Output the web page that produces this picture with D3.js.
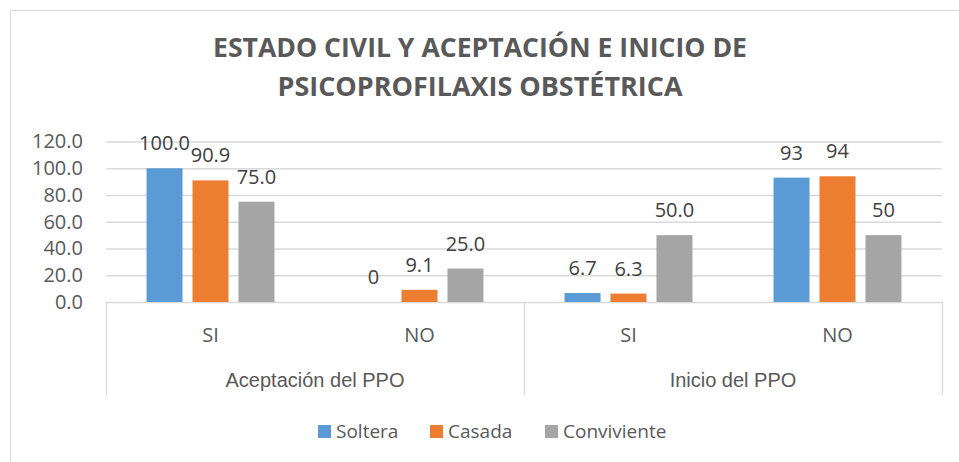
<!DOCTYPE html>
<html>
<head>
<meta charset="utf-8">
<script src="https://cdn.jsdelivr.net/npm/d3@7"></script>
<style>
  body { margin: 0; background: #fff; }
  svg { display: block; font-family: "Open Sans", sans-serif; }
</style>
</head>
<body>
<div id="chart"></div>
<script>
// data
var groups = ["Aceptación del PPO", "Inicio del PPO"];
var answers = ["SI", "NO"];
var series = ["Soltera", "Casada", "Conviviente"];
var soltera = [100.0, 0, 6.7, 93];
var casada = [90.9, 9.1, 6.3, 94];
var conviviente = [75.0, 25.0, 50.0, 50];
var solteraLabels = ["100.0", "0", "6.7", "93"];
var casadaLabels = ["90.9", "9.1", "6.3", "94"];
var convivienteLabels = ["75.0", "25.0", "50.0", "50"];
var yTicks = [0, 20, 40, 60, 80, 100, 120];
var colors = ["#5B9BD5", "#ED7D31", "#A5A5A5"];

var svgWidth = 959;
var svgHeight = 462;

var margin = { top: 141.5, right: 17, bottom: 160, left: 106 };
var width = svgWidth - margin.left - margin.right;
var height = 302 - margin.top;

var svg = d3.select("#chart")
  .append("svg")
  .attr("width", svgWidth)
  .attr("height", svgHeight);

// chart border (runs off right/bottom in the reference)
svg.append("rect")
  .attr("x", 10.5)
  .attr("y", 10.5)
  .attr("width", 1000)
  .attr("height", 1000)
  .attr("fill", "none")
  .attr("stroke", "#D9D9D9")
  .attr("stroke-width", 1);

// title
var title = svg.append("text")
  .attr("text-anchor", "middle")
  .attr("fill", "#595959")
  .style("font-weight", "bold")
  .style("font-size", "26px");
title.append("tspan").attr("x", 480).attr("y", 57)
  .attr("textLength", 534).attr("lengthAdjust", "spacingAndGlyphs")
  .text("ESTADO CIVIL Y ACEPTACIÓN E INICIO DE");
title.append("tspan").attr("x", 480).attr("y", 96)
  .attr("textLength", 405).attr("lengthAdjust", "spacingAndGlyphs")
  .text("PSICOPROFILAXIS OBSTÉTRICA");

var chartGroup = svg.append("g")
  .attr("transform", `translate(${margin.left}, ${margin.top})`);

// build rows
var cats = [];
groups.forEach(function(g, gi) {
  answers.forEach(function(a, ai) {
    cats.push({ key: gi + "-" + a, group: g, answer: a, idx: gi * 2 + ai });
  });
});
var rows = cats.map(function(c, i) {
  return {
    key: c.key,
    values: [
      { name: series[0], v: soltera[i], label: solteraLabels[i] },
      { name: series[1], v: casada[i], label: casadaLabels[i] },
      { name: series[2], v: conviviente[i], label: convivienteLabels[i] }
    ]
  };
});

var x0 = d3.scaleBand()
  .domain(cats.map(d => d.key))
  .range([0, width])
  .padding(0);

var xg = d3.scaleBand()
  .domain(groups)
  .range([0, width]);

var innerW = x0.bandwidth() * 0.612;
var x1 = d3.scaleBand()
  .domain(series)
  .range([(x0.bandwidth() - innerW) / 2, (x0.bandwidth() + innerW) / 2])
  .paddingInner(10 / 46);

var y = d3.scaleLinear()
  .domain([0, 120])
  .range([height, 0]);

var color = d3.scaleOrdinal().domain(series).range(colors);

// gridlines + y axis
var leftAxis = d3.axisLeft(y)
  .tickValues(yTicks)
  .tickFormat(d3.format(".1f"))
  .tickSizeInner(-width)
  .tickSizeOuter(0)
  .tickPadding(23);

var yAxis = chartGroup.append("g")
  .attr("class", "y-axis")
  .call(leftAxis);
yAxis.select(".domain").remove();
yAxis.selectAll("line").attr("stroke", "#D9D9D9").attr("stroke-width", 1.3);
yAxis.selectAll("text")
  .attr("fill", "#595959")
  .style("font-size", "20px")
  .style("font-family", "Open Sans, sans-serif");

// bars
var catGroups = chartGroup.selectAll(".cat")
  .data(rows)
  .enter()
  .append("g")
  .attr("class", "cat")
  .attr("transform", d => `translate(${x0(d.key)}, 0)`);

catGroups.selectAll("rect")
  .data(d => d.values)
  .enter()
  .append("rect")
  .attr("x", d => x1(d.name))
  .attr("y", d => y(d.v))
  .attr("width", x1.bandwidth())
  .attr("height", d => height - y(d.v))
  .attr("fill", d => color(d.name));

// data labels
catGroups.selectAll(".val")
  .data(d => d.values)
  .enter()
  .append("text")
  .attr("class", "val")
  .attr("x", d => x1(d.name) + x1.bandwidth() / 2)
  .attr("y", d => y(d.v) - 18)
  .attr("text-anchor", "middle")
  .attr("fill", "#404040")
  .style("font-size", "20px")
  .text(d => d.label);

// category axis
var bottomAxis = d3.axisBottom(x0)
  .tickSize(0)
  .tickPadding(0)
  .tickFormat(k => cats.find(c => c.key === k).answer);

var xAxis = chartGroup.append("g")
  .attr("class", "x-axis")
  .attr("transform", `translate(0, ${height})`)
  .call(bottomAxis);
xAxis.select(".domain").remove();
xAxis.selectAll("text")
  .attr("dy", null)
  .attr("y", 40)
  .attr("fill", "#595959")
  .style("font-size", "20px")
  .style("font-family", "Open Sans, sans-serif");

// group separators
var seps = [0].concat(groups.map(g => xg(g) + xg.bandwidth()));
xAxis.selectAll(".sep")
  .data(seps)
  .enter()
  .append("line")
  .attr("class", "sep")
  .attr("x1", d => Math.round(d) + 0.5)
  .attr("x2", d => Math.round(d) + 0.5)
  .attr("y1", 0)
  .attr("y2", 93)
  .attr("stroke", "#D9D9D9")
  .attr("stroke-width", 1.3);

xAxis.selectAll(".grp")
  .data(groups)
  .enter()
  .append("text")
  .attr("class", "grp")
  .attr("x", d => xg(d) + xg.bandwidth() / 2)
  .attr("y", 85)
  .attr("text-anchor", "middle")
  .attr("fill", "#595959")
  .style("font-size", "20px")
  .text(d => d);

// legend
var legend = svg.append("g")
  .attr("transform", "translate(318, 438)");
var legendX = [0, 112, 227];
var items = legend.selectAll(".item")
  .data(series)
  .enter()
  .append("g")
  .attr("class", "item")
  .attr("transform", (d, i) => `translate(${legendX[i]}, 0)`);
items.append("rect")
  .attr("x", 0)
  .attr("y", -13)
  .attr("width", 13)
  .attr("height", 13)
  .attr("fill", d => color(d));
items.append("text")
  .attr("x", 18)
  .attr("y", 0)
  .attr("fill", "#595959")
  .style("font-size", "19px")
  .text(d => d);
</script>
</body>
</html>
